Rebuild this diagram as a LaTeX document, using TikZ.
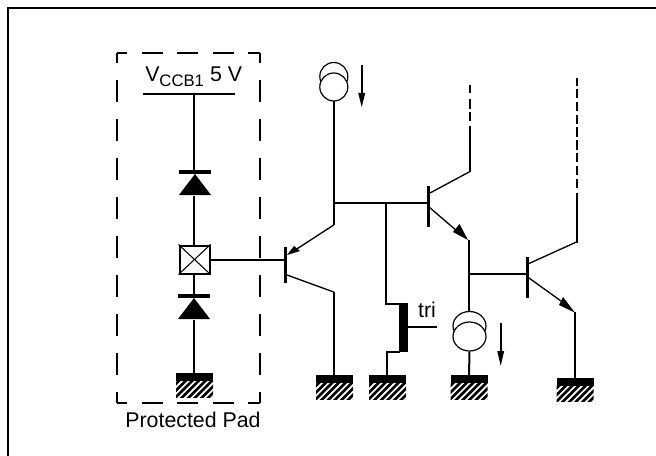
\documentclass[tikz,border=0pt]{standalone}
\usepackage{fontspec}
\setmainfont{Liberation Sans}
\usetikzlibrary{shapes.geometric}
\tikzset{
  x=0.75pt,y=-0.75pt,
  wire/.style={line width=1.5pt},
  thinwire/.style={line width=1pt},
  barline/.style={line width=2.4pt},
  lbl/.style={inner sep=0pt,font=\fontsize{16}{19}\selectfont},
  csrc/.style={circle,draw,line width=0.9pt,minimum size=21pt,inner sep=0pt,fill=white},
  csrcb/.style={ellipse,draw,line width=0.9pt,minimum width=24.75pt,minimum height=21.75pt,inner sep=0pt,fill=white},
  pad/.style={draw,line width=1.5pt,fill=white,minimum width=22.5pt,minimum height=21pt,inner sep=0pt},
  hdash/.style={line width=1.5pt,dash pattern=on 15.75pt off 10.9pt,dash phase=8.25pt},
  vdash/.style={line width=1.5pt,dash pattern=on 16.5pt off 12.75pt,dash phase=9pt},
}
\newcommand{\gnd}[2]{%
  \fill[black] (#1-18.5,#2-4) rectangle (#1+18.5,#2+4);
  \begin{scope}
    \clip (#1-18.5,#2+4) rectangle (#1+18.5,#2+20);
    \foreach \k in {-4,...,9}{
      \draw[line width=2pt] (#1-18.5+\k*6.6-2,#2+22) -- (#1-18.5+\k*6.6+18,#2+2);
    }
  \end{scope}}
\begin{document}
\begin{tikzpicture}
\useasboundingbox (0,0) rectangle (656,456);
% frame
\coordinate (fbl) at (8,456);
\coordinate (ftl) at (8,8);
\coordinate (ftr) at (656,8);
\draw[line width=1.5pt] (fbl) -- (ftl) -- (ftr);
% dashed box
\coordinate (bl) at (117,403);
\coordinate (tl) at (117,53);
\coordinate (tr) at (260,53);
\coordinate (br) at (260,403);
\draw[hdash] (tl) -- (tr);
\draw[hdash] (bl) -- (br);
\draw[vdash] (tl) -- (bl);
\draw[vdash] (tr) -- (br);
% VCCB1
\node[lbl,anchor=base west] (vtxt) at (145,82) {V\raisebox{-3.7pt}{\fontsize{12.5}{14}\selectfont CCB1}\hspace{4.6pt}5 V};
\coordinate (rail1) at (143,94);
\coordinate (rail2) at (235,94);
\coordinate (railm) at (194,94);
\draw[wire] (rail1) -- (rail2);
% diode 1
\coordinate (d1k) at (194,172);
\coordinate (d1a) at (194,196);
\draw[wire] (railm) -- (d1k);
\draw[barline] (179,172) -- (211,172);
\fill (195,174) -- (179,195) -- (211,195) -- cycle;
% pad
\node[pad] (pad) at (194.5,259.5) {};
\draw[line width=0.8pt] (pad.north west) -- (pad.south east) (pad.north east) -- (pad.south west);
\draw[wire] (d1a) -- (d1a |- pad.north);
% diode 2
\coordinate (d2k) at (194,296);
\coordinate (d2a) at (194,320);
\draw[wire] (d2k |- pad.south) -- (d2k);
\draw[barline] (178,296) -- (210,296);
\fill (194,298) -- (178,319) -- (210,319) -- cycle;
\coordinate (g1) at (194,374);
\draw[wire] (d2a) -- (g1);
\gnd{194.5}{377}
\node[lbl,anchor=base] (pp) at (193,427) {Protected Pad};
% T1 PNP
\coordinate (t1b) at (285,260);
\draw[wire] (t1b -| pad.east) -- (t1b);
\draw[barline] (285.5,247) -- (285.5,283);
\coordinate (t1e) at (333.7,225);
\coordinate (t1c) at (333.7,292);
\draw[thinwire] (t1e) -- (296,249.5);
\fill (287,255) -- (294,246) -- (300,251) -- cycle;
\draw[thinwire] (287,275) -- (t1c);
\coordinate (cs1) at (333.7,101);
\draw[wire] (cs1) -- (t1e);
\draw[wire] (t1c) -- (333.7,376);
\gnd{334.5}{379}
% upper current source
\node[csrc] (a1) at (333.8,76.5) {};
\node[csrc] (a2) at (333.8,87) {};
\draw[wire] (361.7,65) -- (361.7,95);
\fill (361.7,107) -- (358.2,93) -- (365.2,93) -- cycle;
% bus
\coordinate (bus) at (428,203);
\draw[wire] (333,203) -- (bus);
\draw[barline] (428.5,186) -- (428.5,227);
% tri device
\coordinate (tbus) at (386,203);
\draw[wire] (tbus) -- (386,303.7) -- (400,303.7);
\fill (399,303) rectangle (408,352);
\draw[wire] (408,327) -- (437,327);
\draw[wire] (400,351.7) -- (387,351.7) -- (387,376);
\gnd{387.5}{379}
\node[lbl,anchor=base] (tri) at (427,317) {tri};
% T2 NPN
\draw[thinwire] (430,193) -- (470,171.5);
\draw[wire] (470,172) -- (470,126);
\draw[wire] (470,121) -- (470,112) (470,109) -- (470,99) (470,93) -- (470,85);
\draw[thinwire] (429,207) -- (457,231);
\fill (468,240) -- (453,232) -- (459.5,224) -- cycle;
\coordinate (t2e) at (469,240);
\draw[wire] (t2e) -- (469,312);
\node[csrcb] (b1) at (469.5,326) {};
\node[csrcb] (b2) at (469.5,336.5) {};
\draw[wire] (b2.south) -- (469,376);
\gnd{469}{379}
\draw[wire] (500.7,323) -- (500.7,352);
\fill (500.7,365.7) -- (497.2,351) -- (504.2,351) -- cycle;
% T3 NPN
\coordinate (t3b) at (527,273.7);
\draw[wire] (469,273.7) -- (t3b);
\draw[barline] (527.3,257) -- (527.3,298);
\draw[thinwire] (529,263.5) -- (576.5,242);
\draw[wire] (576.5,242.5) -- (576.5,193);
\draw[wire,dash pattern=on 7pt off 2.6pt] (576.5,188) -- (576.5,78);
\draw[thinwire] (529,278) -- (561,301);
\fill (575,312.7) -- (559,305) -- (563,297) -- cycle;
\draw[wire] (575,312) -- (575,379);
\gnd{575}{381.5}
\end{tikzpicture}
\end{document}
